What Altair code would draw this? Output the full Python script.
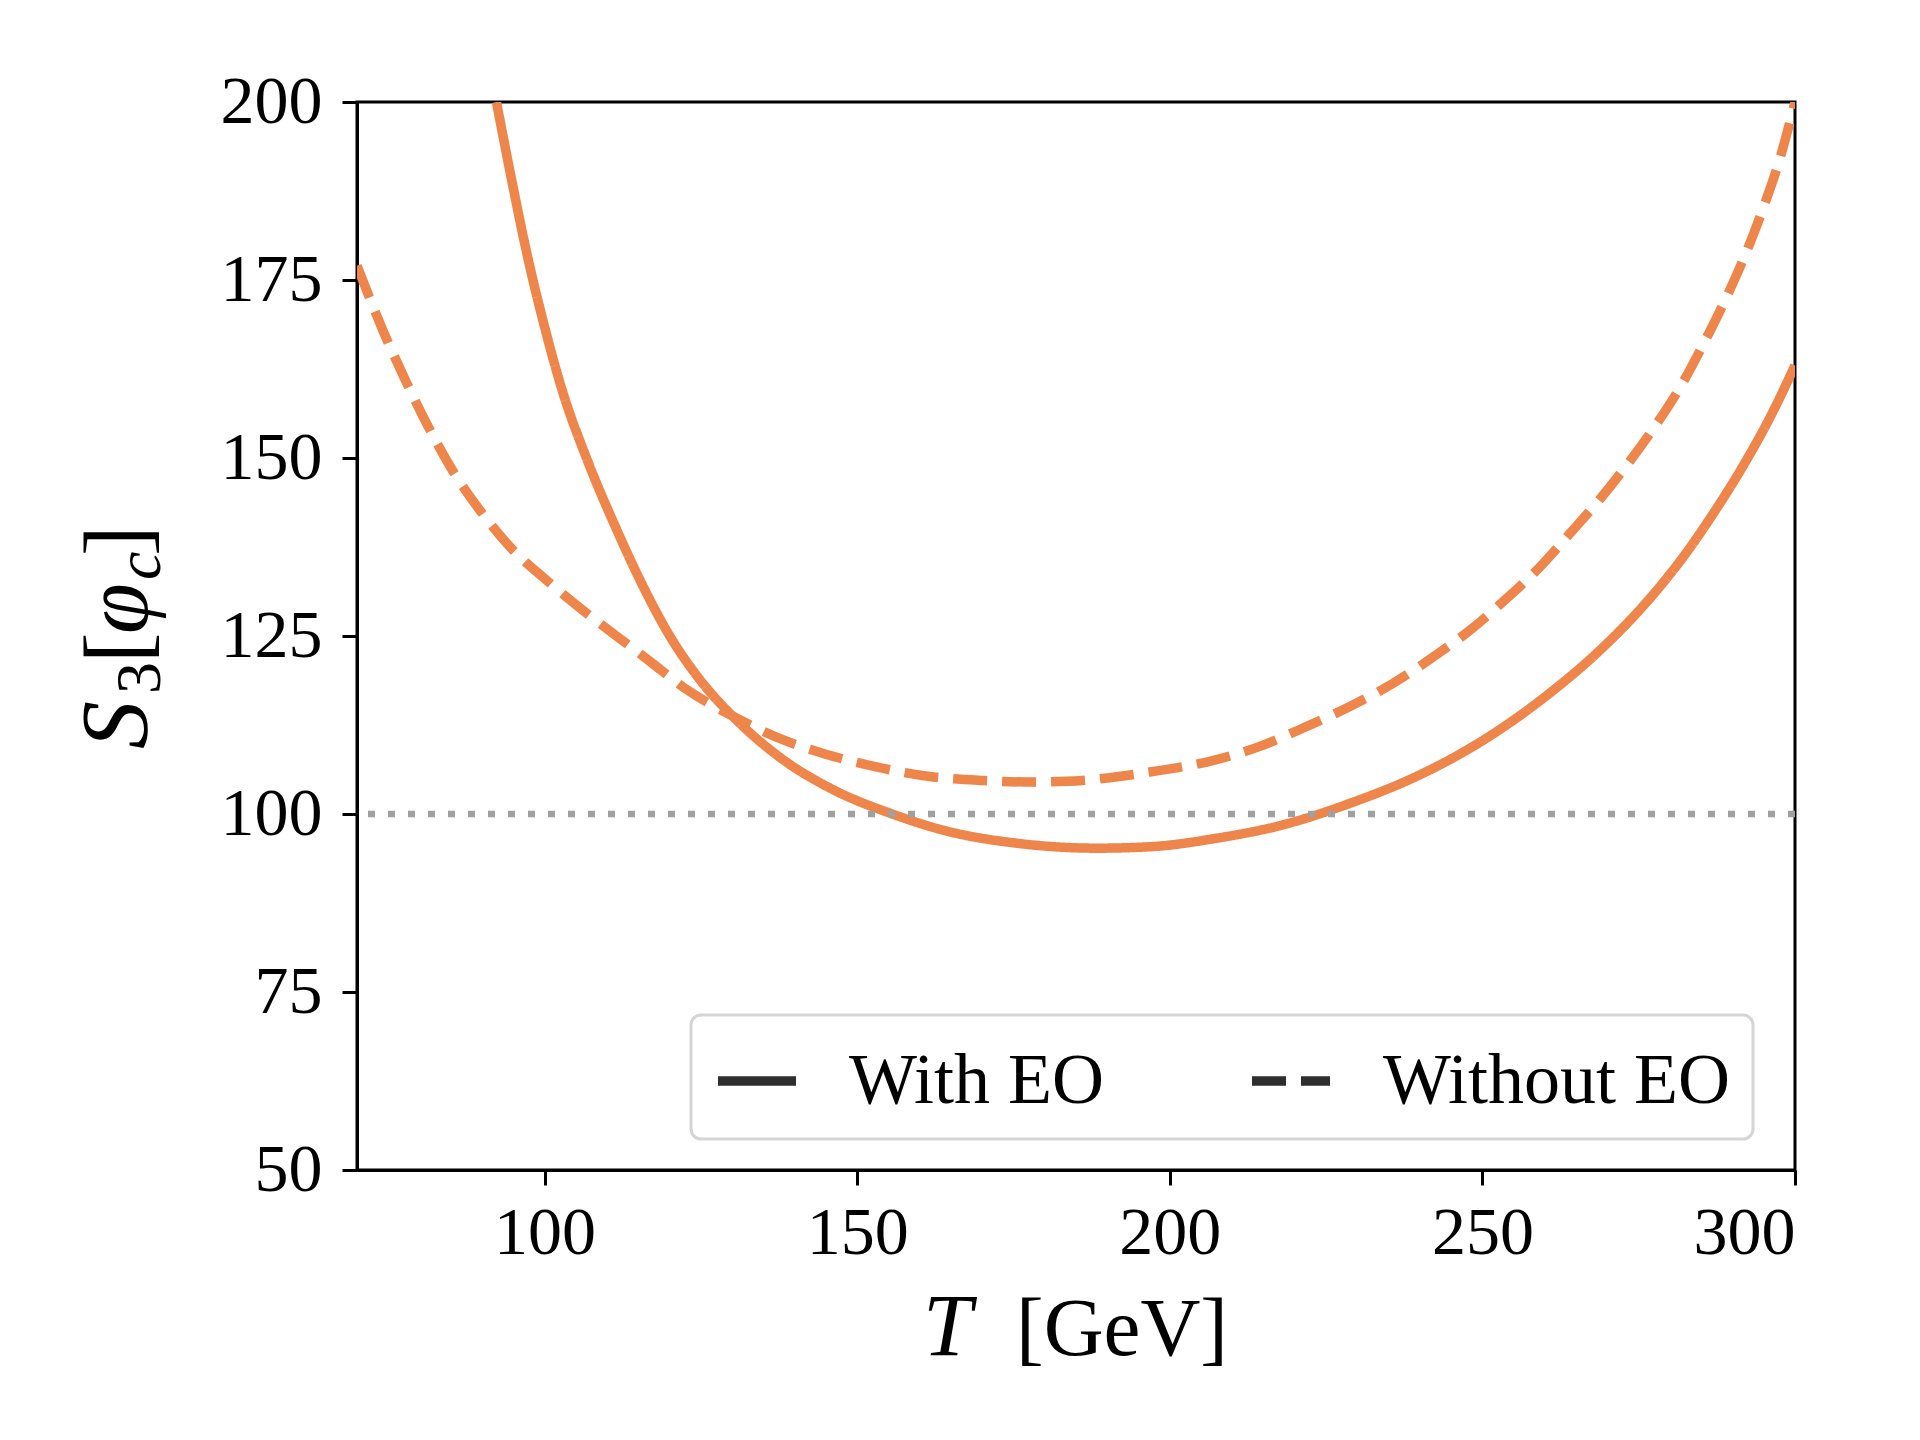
import altair as alt
import pandas as pd

# ---------------- data ----------------
T_with = [92.3, 95.0, 97.1, 99.8, 103.0, 106.7, 111.5, 115.8, 120.1, 124.9, 130.7, 138.2,
          146.2, 155.3, 164.8, 175.5, 188.3, 196.8, 207.5, 218.2, 228.8, 239.5, 250.2,
          260.8, 268.8, 276.8, 282.2, 287.0, 291.7, 296.0, 300.0]
S_with = [200.0, 187.9, 179.0, 169.1, 159.0, 150.0, 140.0, 131.9, 124.9, 118.8, 113.2, 107.6,
          103.4, 100.1, 97.5, 95.9, 95.2, 95.4, 96.6, 98.5, 101.5, 105.3, 110.4,
          117.0, 123.0, 130.3, 136.2, 142.3, 148.9, 155.7, 163.0]

T_without = [70.0, 74.2, 77.7, 81.1, 84.9, 89.7, 94.5, 100.9, 116.9, 122.7, 130.2, 138.2,
             146.2, 154.2, 162.2, 170.2, 177.1, 183.5, 190.4, 196.8, 205.9, 214.4, 221.9,
             228.8, 235.8, 242.2, 248.0, 253.9, 259.2, 264.0, 268.5, 273.1, 277.4, 281.6,
             285.4, 289.1, 292.3, 295.0, 297.6, 300.0]
S_without = [177.0, 167.8, 161.0, 154.9, 148.8, 142.6, 137.5, 132.4, 121.4, 117.5, 113.7, 110.4,
             108.1, 106.4, 105.2, 104.7, 104.5, 104.6, 105.1, 105.9, 107.3, 109.5, 112.3,
             115.1, 118.4, 122.1, 125.8, 130.3, 134.7, 139.4, 143.9, 149.0, 154.2, 159.9,
             166.1, 172.7, 179.1, 185.3, 192.1, 200.0]

series_names = ["With EO", "Without EO"]
x_ticks = [100, 150, 200, 250, 300]
y_ticks = [50, 75, 100, 125, 150, 175, 200]
ref_level = [100]
x_title_parts = ["T", "[GeV]"]
y_title_parts = ["S", "3", "[", "φ", "c", "]"]

df = pd.concat([
    pd.DataFrame({"T": T_with, "S": S_with, "series": series_names[0]}),
    pd.DataFrame({"T": T_without, "S": S_without, "series": series_names[1]}),
], ignore_index=True)

ORANGE = "#EE854A"
FONT = "Liberation Serif"

x_enc = alt.X("T:Q",
              scale=alt.Scale(domain=[70, 300], nice=False, zero=False),
              axis=alt.Axis(values=x_ticks, title=None, labelPadding=14, format="d"))
y_enc = alt.Y("S:Q",
              scale=alt.Scale(domain=[50, 200], nice=False, zero=False),
              axis=alt.Axis(values=y_ticks, title=None, labelPadding=20, format="d"))

lines = alt.Chart(df).mark_line(color=ORANGE, strokeWidth=9.5, strokeCap="butt",
                                interpolate="monotone", clip=True).encode(
    x=x_enc,
    y=y_enc,
    strokeDash=alt.StrokeDash(
        "series:N",
        scale=alt.Scale(domain=series_names, range=[[1, 0], [34, 15]]),
        legend=alt.Legend(
            title=None,
            orient="none",
            legendX=334,
            legendY=913,
            direction="horizontal",
            columns=2,
            columnPadding=128,
            symbolType="stroke",
            symbolSize=6084,
            symbolStrokeWidth=9.5,
            symbolStrokeColor="#2E2E2E",
            symbolOpacity=1,
            labelFont=FONT,
            labelFontSize=72,
            labelColor="black",
            labelOffset=48,
            labelLimit=0,
            labelBaseline="middle",
            padding=22,
            strokeColor="#D5D5D5",
            fillColor="white",
            cornerRadius=10,
        ),
    ),
    detail="series:N",
)

ref = alt.Chart(pd.DataFrame({"S": ref_level})).mark_rule(
    color="#A0A0A0", strokeWidth=6.5, strokeDash=[7, 13]
).encode(y="S:Q")


def piece(label, px, py, size, italic, angle=0):
    kw = dict(font=FONT, fontSize=size, color="black", align="left", baseline="alphabetic")
    if italic:
        kw["fontStyle"] = "italic"
    if angle:
        kw["angle"] = angle
    return alt.Chart(pd.DataFrame({"label": [label]})).mark_text(**kw).encode(
        text="label:N", x=alt.value(px), y=alt.value(py)
    )


texts = [
    piece(x_title_parts[0], 566, 1253, 88, True),
    piece(x_title_parts[1], 659, 1253, 83, False),
    piece(y_title_parts[0], -210, 647, 96, True, 270),
    piece(y_title_parts[1], -197, 592, 64, False, 270),
    piece(y_title_parts[2], -210, 561, 92, False, 270),
    piece(y_title_parts[3], -210, 532, 92, True, 270),
    piece(y_title_parts[4], -197, 478, 64, True, 270),
    piece(y_title_parts[5], -210, 454, 92, False, 270),
]

chart = alt.layer(lines, ref, *texts).properties(
    width=1438,
    height=1068,
    autosize=alt.AutoSizeParams(type="none"),
    padding={"left": 349, "top": 94, "right": 117, "bottom": 262},
).configure_axis(
    labelFont=FONT,
    labelFontSize=68,
    labelColor="black",
    domainColor="black",
    domainWidth=3,
    tickColor="black",
    tickWidth=3,
    tickSize=15,
    grid=False,
).configure_legend(
    strokeWidth=3,
).configure_view(
    stroke="black",
    strokeWidth=3,
)

chart.save("out.html", embed_options={"renderer": "svg", "actions": False})
